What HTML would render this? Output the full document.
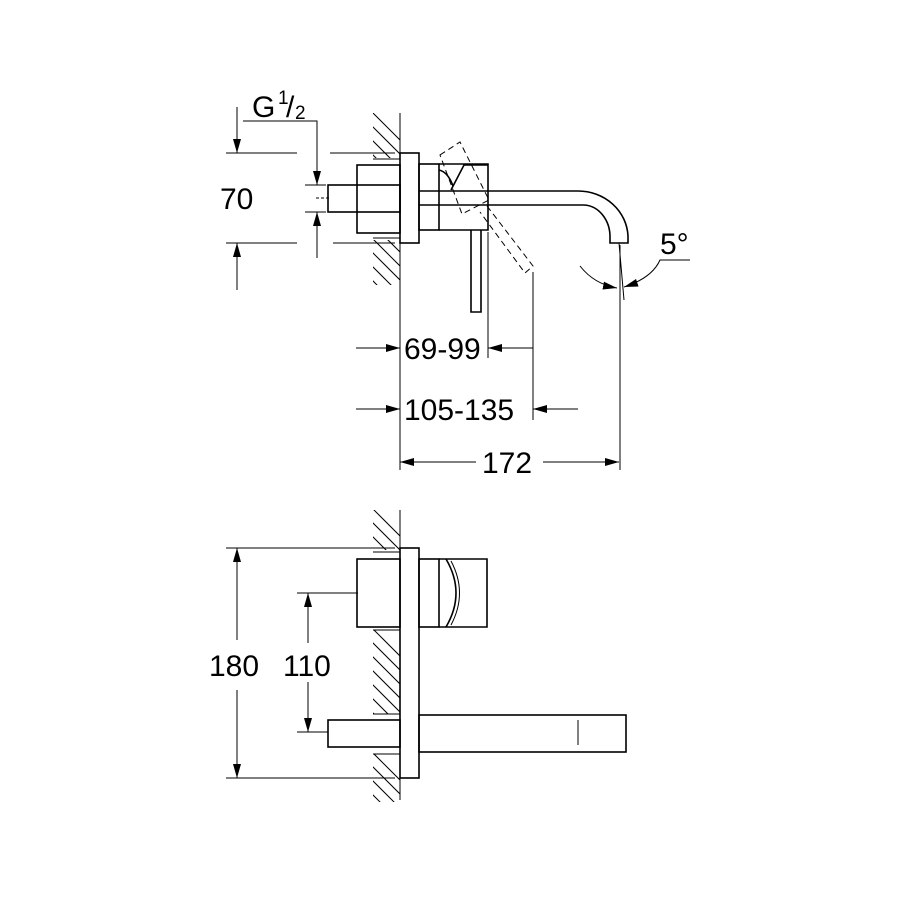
<!DOCTYPE html>
<html><head><meta charset="utf-8"><style>
html,body{margin:0;padding:0;background:#fff;}
svg{display:block}
text{font-family:"Liberation Sans",sans-serif;fill:#000}
</style></head><body>
<svg width="900" height="900" viewBox="0 0 900 900" xmlns="http://www.w3.org/2000/svg">
<defs>
<clipPath id="h1"><rect x="373" y="113" width="27" height="45"/><rect x="373" y="240" width="27" height="45"/></clipPath>
<clipPath id="h2"><rect x="373" y="510" width="27" height="40"/><rect x="373" y="630" width="27" height="84"/><rect x="373" y="754" width="27" height="48"/></clipPath>
<marker id="a" markerWidth="14" markerHeight="8" refX="14" refY="4" orient="auto" markerUnits="userSpaceOnUse"><path d="M0,0 L14,4 L0,8 z" fill="#000"/></marker>
</defs>
<g stroke="#000" fill="none" stroke-width="1">
<g clip-path="url(#h1)">
<path d="M360,100 l50,50 M360,114 l50,50 M360,128 l50,50 M360,142 l50,50 M360,226 l50,50 M360,240 l50,50 M360,254 l50,50 M360,268 l50,50 M360,212 l50,50"/>
</g>
<g clip-path="url(#h2)">
<path d="M360,496 l50,50 M360,510 l50,50 M360,524 l50,50 M360,538 l50,50 M360,616 l50,50 M360,630 l50,50 M360,644 l50,50 M360,658 l50,50 M360,672 l50,50 M360,686 l50,50 M360,700 l50,50 M360,740 l50,50 M360,754 l50,50 M360,768 l50,50 M360,782 l50,50"/>
</g>
<path d="M400,113 V470 M400,510 V800"/>
<path d="M373,159 H400 M373,238 H400 M373,552 H400 M373,630 H400 M373,714 H400 M373,754 H400"/>
<g stroke-width="1.6">
<rect x="400" y="153" width="19" height="90"/>
<rect x="357" y="165" width="43" height="68"/>
<rect x="328" y="185" width="72" height="27"/>
<rect x="419" y="164" width="20" height="66"/>
<path d="M439,164 H488 V230 H439"/>
<path d="M451,190 L464,165 H488"/>
<path d="M439,170 Q448,172 453,186"/>
<path d="M419,191 H578 A50,47 0 0 1 628,236 V243 H610 V238 A27,32 0 0 0 584,205 H419"/>
<path d="M471,230 V312 H481 V230"/>
</g>
<path d="M316,198 H330" stroke-dasharray="3,2"/>
<g stroke-dasharray="6,4">
<path d="M440,155 L460,142 L489,200 L462,214 Z"/>
<path d="M487,206 L533,266 L525,273 L480,212"/>
</g>
<path d="M226,153 H297 M330,153 H395 M226,243 H297 M333,243 H395"/>
<path d="M237,107 V153" marker-end="url(#a)"/>
<path d="M237,290 V243" marker-end="url(#a)"/>
<path d="M243,121 H317 V185" marker-end="url(#a)"/>
<path d="M305,185 H326 M305,212 H326"/>
<path d="M317,258 V212" marker-end="url(#a)"/>
<path d="M488,232 V358 M533,272 V420 M620,245 V470 M619,243 L624,300"/>
<path d="M356,348 H400" marker-end="url(#a)"/>
<path d="M533,348 H488" marker-end="url(#a)"/>
<path d="M356,409 H400" marker-end="url(#a)"/>
<path d="M578,409 H533" marker-end="url(#a)"/>
<path d="M476,462 H400" marker-end="url(#a)"/>
<path d="M543,462 H619" marker-end="url(#a)"/>
<path d="M580,266 Q594,284 617,288" marker-end="url(#a)"/>
<path d="M690,260 H660 Q652,278 624,287" marker-end="url(#a)"/>
<g stroke-width="1.6">
<rect x="400" y="548" width="19" height="230"/>
<rect x="357" y="559" width="43" height="68"/>
<rect x="419" y="559" width="20" height="68"/>
<path d="M439,559 H487 V627 H439"/>
<path d="M446,559 Q466,593 446,627"/>
<rect x="328" y="720" width="72" height="27"/>
<rect x="419" y="715" width="207" height="37"/>
</g>
<path d="M451,561 Q468,593 451,625"/>
<path d="M578,720 V745"/>
<path d="M226,548 H395 M226,778 H395 M297,593 H358 M297,732 H328"/>
<path d="M237,640 V548" marker-end="url(#a)"/>
<path d="M237,690 V778" marker-end="url(#a)"/>
<path d="M308,643 V593" marker-end="url(#a)"/>
<path d="M308,682 V732" marker-end="url(#a)"/>
</g>
<g font-size="30">
<text x="220" y="209">70</text>
<text x="252" y="117">G</text>
<text x="278" y="104" font-size="19">1</text>
<text x="286" y="117">/</text>
<text x="295" y="119" font-size="19">2</text>
<text x="660" y="254">5°</text>
<text x="404" y="359">69-99</text>
<text x="404" y="420">105-135</text>
<text x="482" y="473">172</text>
<text x="209" y="676">180</text>
<text x="283" y="676">110</text>
</g>
</svg>
</body></html>
